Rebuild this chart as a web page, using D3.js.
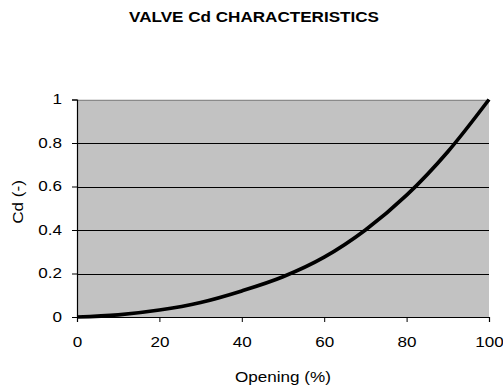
<!DOCTYPE html>
<html>
<head>
<meta charset="utf-8">
<script src="https://cdn.jsdelivr.net/npm/d3@7"></script>
<style>
  html, body { margin: 0; padding: 0; background: #fff; }
  text { font-family: "Liberation Sans", Arial, sans-serif; fill: #000; }
</style>
</head>
<body>
<svg id="chart" width="503" height="388"></svg>
<script>
// Valve discharge coefficient vs. opening
const opening = [0, 10, 20, 30, 40, 50, 60, 70, 80, 90, 100];
const cd      = [0, 0.01, 0.032, 0.067, 0.12, 0.185, 0.275, 0.4, 0.56, 0.76, 1.0];
const xTicks  = [0, 20, 40, 60, 80, 100];
const yTicks  = [0, 0.2, 0.4, 0.6, 0.8, 1];
const titleText = "VALVE Cd CHARACTERISTICS";
const xTitle = "Opening (%)";
const yTitle = "Cd (-)";

const svg = d3.select("#chart");
const plot = { left: 77, right: 489, top: 99.5, bottom: 317 };
const STRETCH = 1.22;

const x = d3.scaleLinear().domain([0, 100]).range([plot.left, plot.right]);
const y = d3.scaleLinear().domain([0, 1]).range([plot.bottom, plot.top]);

// plot area background
svg.append("rect")
  .attr("x", plot.left).attr("y", plot.top)
  .attr("width", plot.right - plot.left).attr("height", plot.bottom - plot.top)
  .attr("fill", "#c2c2c2");

// horizontal gridlines
svg.append("g")
  .selectAll("line")
  .data(yTicks.filter(v => v > 0 && v < 1))
  .join("line")
  .attr("x1", plot.left).attr("x2", plot.right)
  .attr("y1", d => Math.round(y(d)) + 0.5).attr("y2", d => Math.round(y(d)) + 0.5)
  .attr("stroke", "#000").attr("stroke-width", 1);

// top border
svg.append("line")
  .attr("x1", plot.left).attr("x2", plot.right)
  .attr("y1", Math.round(plot.top) + 0.5).attr("y2", Math.round(plot.top) + 0.5)
  .attr("stroke", "#8a8a8a").attr("stroke-width", 1);

// axes
const xAxis = svg.append("g")
  .attr("transform", `translate(0,${plot.bottom})`)
  .call(d3.axisBottom(x).tickValues(xTicks).tickSize(5).tickPadding(15).tickFormat(d3.format("d")));
const yAxis = svg.append("g")
  .attr("transform", `translate(${plot.left},0)`)
  .call(d3.axisLeft(y).tickValues(yTicks).tickSize(5).tickPadding(10).tickFormat(d => d === 0 || d === 1 ? String(d) : d3.format(".1f")(d)));

[xAxis, yAxis].forEach(g => {
  g.select(".domain").attr("stroke", "#000").attr("stroke-width", 1.2);
  g.selectAll(".tick line").attr("stroke", "#000");
  g.selectAll(".tick text").attr("font-size", 14).attr("font-family", "Liberation Sans, Arial, sans-serif").attr("fill", "#000");
});

// curve
const line = d3.line()
  .x((d, i) => x(opening[i]))
  .y(d => y(d))
  .curve(d3.curveMonotoneX);
svg.append("path")
  .datum(cd)
  .attr("d", line)
  .attr("fill", "none")
  .attr("stroke", "#000")
  .attr("stroke-width", 3.7)
  .attr("stroke-linejoin", "round");

// titles
svg.append("text")
  .attr("class", "stretch")
  .attr("x", 254).attr("y", 22)
  .attr("text-anchor", "middle")
  .attr("font-size", 14).attr("font-weight", "bold")
  .text(titleText);

svg.append("text")
  .attr("class", "stretch")
  .attr("x", (plot.left + plot.right) / 2 + 0).attr("y", 382)
  .attr("text-anchor", "middle")
  .attr("font-size", 14)
  .text(xTitle);

svg.append("text")
  .attr("class", "stretch")
  .attr("transform", `translate(23,202) rotate(-90)`)
  .attr("text-anchor", "middle")
  .attr("font-size", 14)
  .text(yTitle);

// widen the type slightly horizontally
svg.selectAll(".tick text, text.stretch").each(function() {
  const len = this.getComputedTextLength();
  d3.select(this).attr("textLength", len * STRETCH).attr("lengthAdjust", "spacingAndGlyphs");
});
</script>
</body>
</html>
